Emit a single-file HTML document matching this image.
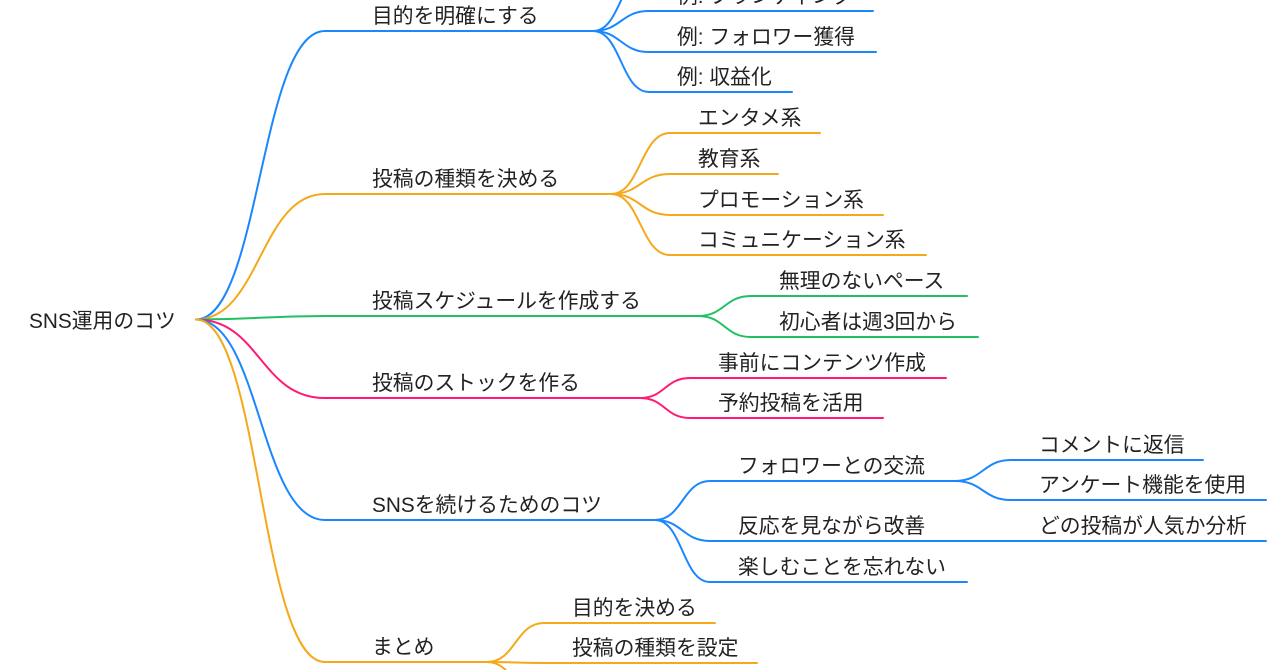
<!DOCTYPE html>
<html>
<head>
<meta charset="utf-8">
<style>
  html,body{margin:0;padding:0;background:#fff;}
  body{width:1280px;height:670px;overflow:hidden;}
  svg{display:block;}
  text{font-family:"Liberation Sans","Noto Sans CJK JP",sans-serif;font-size:20.8px;fill:#222;}
  path{fill:none;stroke-width:2;stroke-linecap:round;}
  .b{stroke:#1a87ff;}
  .o{stroke:#f5a81a;}
  .g{stroke:#21c063;}
  .p{stroke:#ff1a75;}
</style>
</head>
<body>
<svg width="1280" height="670" viewBox="0 0 1280 670" xmlns="http://www.w3.org/2000/svg">
  <rect width="1280" height="670" fill="#fff"/>

  <!-- Level 1 links -->
  <path class="b" d="M196,319.5 C260,319.5 260,31 325,31 H593"/>
  <path class="o" d="M196,319.5 C260,319.5 260,194 325,194 H611"/>
  <path class="g" d="M196,319.5 C260,319.5 260,316 325,316 H698"/>
  <path class="p" d="M196,319.5 C260,319.5 260,398 325,398 H640"/>
  <path class="b" d="M196,319.5 C260,319.5 260,520 325,520 H655"/>
  <path class="o" d="M196,319.5 C260,319.5 260,662 325,662 H487"/>

  <!-- Blue 1 children -->
  <path class="b" d="M593,31 C621,31 621,-30 649,-30 H870"/>
  <path class="b" d="M593,31 C621,31 621,11 649,11 H873"/>
  <path class="b" d="M593,31 C621,31 621,52 649,52 H876"/>
  <path class="b" d="M593,31 C621,31 621,92 649,92 H792"/>

  <!-- Orange 1 children -->
  <path class="o" d="M611,194 C640.5,194 640.5,133 670,133 H820"/>
  <path class="o" d="M611,194 C640.5,194 640.5,174 670,174 H778"/>
  <path class="o" d="M611,194 C640.5,194 640.5,215 670,215 H883"/>
  <path class="o" d="M611,194 C640.5,194 640.5,255 670,255 H926"/>

  <!-- Green children -->
  <path class="g" d="M698,316 C724.5,316 724.5,296 751,296 H967"/>
  <path class="g" d="M698,316 C724.5,316 724.5,337 751,337 H978"/>

  <!-- Pink children -->
  <path class="p" d="M640,398 C665,398 665,378 690,378 H946"/>
  <path class="p" d="M640,398 C665,398 665,418 690,418 H883"/>

  <!-- Blue 2 children -->
  <path class="b" d="M655,520 C682.5,520 682.5,481 710,481 H955"/>
  <path class="b" d="M655,520 C682.5,520 682.5,541 710,541 H955"/>
  <path class="b" d="M655,520 C682.5,520 682.5,582 710,582 H967"/>

  <!-- Blue grandchildren -->
  <path class="b" d="M955,481 C983,481 983,460 1011,460 H1203"/>
  <path class="b" d="M955,481 C983,481 983,500 1011,500 H1266"/>
  <path class="b" d="M955,541 H1266"/>

  <!-- まとめ children -->
  <path class="o" d="M487,662 C515.5,662 515.5,623 544,623 H715"/>
  <path class="o" d="M487,662 C515.5,662 515.5,663 544,663 H757"/>
  <path class="o" d="M487,662 C515.5,662 515.5,703 544,703 H800"/>

  <!-- Root -->
  <text x="29" y="328">SNS運用のコツ</text>

  <!-- Level 1 labels -->
  <text x="372" y="23">目的を明確にする</text>
  <text x="372" y="186">投稿の種類を決める</text>
  <text x="372" y="308">投稿スケジュールを作成する</text>
  <text x="372" y="390">投稿のストックを作る</text>
  <text x="372" y="512">SNSを続けるためのコツ</text>
  <text x="372" y="654">まとめ</text>

  <!-- Level 2 labels -->
  <text x="677" y="3">例: ブランディング</text>
  <text x="677" y="44">例: フォロワー獲得</text>
  <text x="677" y="84">例: 収益化</text>

  <text x="698" y="125">エンタメ系</text>
  <text x="698" y="166">教育系</text>
  <text x="698" y="207">プロモーション系</text>
  <text x="698" y="247">コミュニケーション系</text>

  <text x="779" y="288">無理のないペース</text>
  <text x="779" y="329">初心者は週3回から</text>

  <text x="718" y="370">事前にコンテンツ作成</text>
  <text x="718" y="410">予約投稿を活用</text>

  <text x="738" y="473">フォロワーとの交流</text>
  <text x="738" y="533">反応を見ながら改善</text>
  <text x="738" y="574">楽しむことを忘れない</text>

  <text x="1039" y="452">コメントに返信</text>
  <text x="1039" y="492">アンケート機能を使用</text>
  <text x="1039" y="533">どの投稿が人気か分析</text>

  <text x="572" y="615">目的を決める</text>
  <text x="572" y="655">投稿の種類を設定</text>
</svg>
</body>
</html>
